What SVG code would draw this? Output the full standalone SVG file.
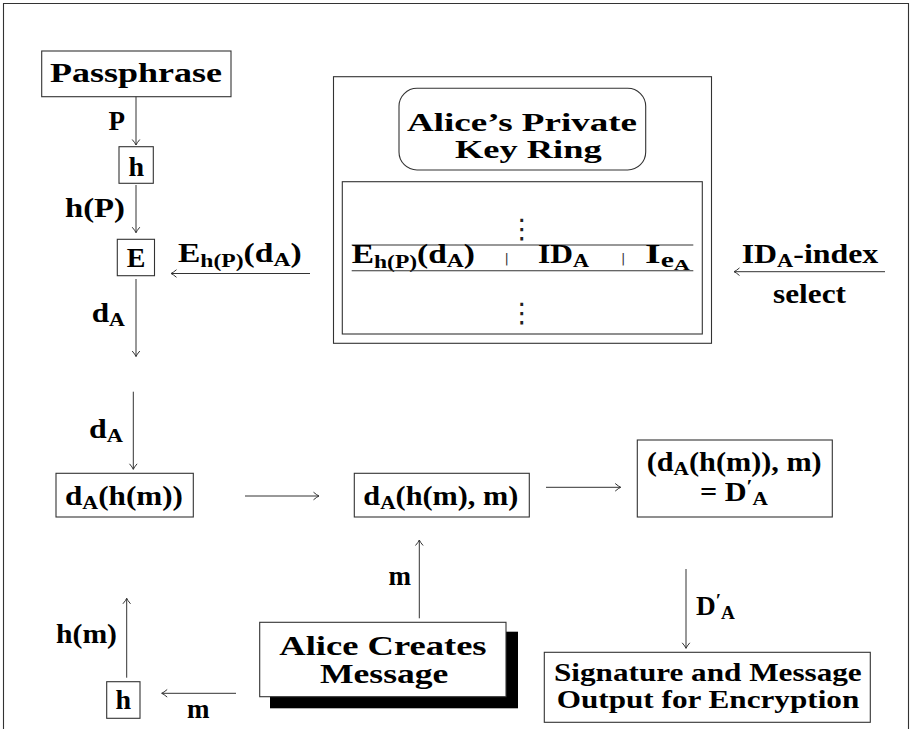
<svg xmlns="http://www.w3.org/2000/svg" width="911" height="729" viewBox="0 0 911 729">
<defs>
<style>
.box{fill:#fff;stroke:#333;stroke-width:1.1}
.ln{fill:none;stroke:#333;stroke-width:1.1}
.cn{fill:none;stroke:#333;stroke-width:1;marker-end:url(#ah)}
text{font-family:"Liberation Serif","Times New Roman",serif;font-weight:bold;fill:#000}
.big{font-size:26px}
.mid{font-size:27px}
.sig{font-size:26px}
.sub{font-size:19px}
.ssub{font-size:15px}
.dots{font-family:"DejaVu Sans",sans-serif;font-weight:normal;font-size:27px;fill:#222}
.bar{font-family:"DejaVu Sans",sans-serif;font-weight:normal;font-size:13px;fill:#333}
</style>
<marker id="ah" viewBox="-7 -5 8 10" markerWidth="8" markerHeight="10" refX="0" refY="0" orient="auto" markerUnits="userSpaceOnUse">
<path d="M-5.5,-3.8 Q-2,-0.8 0,0 Q-2,0.8 -5.5,3.8" fill="none" stroke="#333" stroke-width="1"/>
</marker>
</defs>
<rect width="911" height="729" fill="#fff"/>
<path class="ln" d="M3.5,729 V3.5 H908.5 V729"/>

<g id="passphrase">
<rect class="box" x="41.7" y="51" width="189.3" height="45.7"/>
<text x="50" y="81.7" font-size="28" textLength="172" lengthAdjust="spacingAndGlyphs">Passphrase</text>
</g>
<g id="hash-top">
<rect class="box" x="119" y="146.7" width="34.3" height="36.6"/>
<text x="136.2" y="175.7" font-size="28" text-anchor="middle">h</text>
</g>
<g id="encrypt">
<rect class="box" x="117.3" y="239.3" width="37.2" height="36.4"/>
<text x="136" y="266.5" font-size="28" text-anchor="middle">E</text>
</g>

<g id="keyring">
<rect class="box" x="333.5" y="76.7" width="378" height="266.6"/>
<rect class="box" x="399" y="88.3" width="246.7" height="81.7" rx="18" ry="18"/>
<text class="big" x="407" y="130.5" textLength="230" lengthAdjust="spacingAndGlyphs">Alice’s Private</text>
<text class="big" x="455" y="158" textLength="146.7" lengthAdjust="spacingAndGlyphs">Key Ring</text>
<rect class="box" x="342.3" y="181.7" width="360" height="152.3"/>
<text class="dots" x="521.7" y="238" text-anchor="middle">⋮</text>
<line class="ln" x1="351.7" y1="245" x2="693.3" y2="245"/>
<text class="mid" x="351.7" y="263.3" textLength="123.3" lengthAdjust="spacingAndGlyphs">E<tspan class="sub" dy="5">h(P)</tspan><tspan dy="-5">(d</tspan><tspan class="sub" dy="4">A</tspan><tspan dy="-4">)</tspan></text>
<text class="bar" x="506.7" y="263" text-anchor="middle">|</text>
<text class="mid" x="538" y="263.3" textLength="51" lengthAdjust="spacingAndGlyphs">ID<tspan class="sub" dy="4">A</tspan></text>
<text class="bar" x="623.3" y="263" text-anchor="middle">|</text>
<text class="mid" x="645" y="263.3" textLength="45" lengthAdjust="spacingAndGlyphs">I<tspan font-size="20" dy="4">e</tspan><tspan class="ssub" dy="3">A</tspan></text>
<line class="ln" x1="351.7" y1="270.7" x2="693.3" y2="270.7"/>
<text class="dots" x="521.7" y="321.5" text-anchor="middle">⋮</text>
</g>

<g id="sign-hash">
<rect class="box" x="56" y="473.3" width="137.3" height="43.7"/>
<text class="mid" x="65" y="505" textLength="118" lengthAdjust="spacingAndGlyphs">d<tspan class="sub" dy="4">A</tspan><tspan dy="-4">(h(m))</tspan></text>
</g>
<g id="sign-pair">
<rect class="box" x="354.3" y="473.3" width="175" height="43.7"/>
<text class="mid" x="363.3" y="505" textLength="155" lengthAdjust="spacingAndGlyphs">d<tspan class="sub" dy="4">A</tspan><tspan dy="-4">(h(m), m)</tspan></text>
</g>
<g id="result">
<rect class="box" x="637.3" y="440" width="195" height="77"/>
<text class="mid" x="646.7" y="470.7" textLength="175" lengthAdjust="spacingAndGlyphs">(d<tspan class="sub" dy="4">A</tspan><tspan dy="-4">(h(m)), m)</tspan></text>
<text class="mid" x="700" y="500.7" textLength="68" lengthAdjust="spacingAndGlyphs">= D<tspan class="sub" dy="-8">′</tspan><tspan class="sub" dy="12">A</tspan></text>
</g>
<g id="alice-creates">
<rect x="270" y="631.7" width="248" height="76.6" fill="#000"/>
<rect class="box" x="259.7" y="622.3" width="246.3" height="74.4"/>
<text x="279.3" y="655" font-size="27" textLength="207.3" lengthAdjust="spacingAndGlyphs">Alice Creates</text>
<text x="320" y="683" font-size="27" textLength="128.3" lengthAdjust="spacingAndGlyphs">Message</text>
</g>
<g id="hash-bottom">
<rect class="box" x="106.7" y="681.7" width="33.3" height="36.6"/>
<text x="123.3" y="708.5" font-size="28" text-anchor="middle">h</text>
</g>
<g id="output">
<rect class="box" x="544.3" y="652.3" width="326" height="70"/>
<text class="sig" x="554" y="681.2" textLength="307.7" lengthAdjust="spacingAndGlyphs">Signature and Message</text>
<text class="sig" x="556.7" y="708.3" textLength="302.6" lengthAdjust="spacingAndGlyphs">Output for Encryption</text>
</g>
<g id="idx">
<text class="mid" x="741.7" y="263.3" textLength="136.6" lengthAdjust="spacingAndGlyphs">ID<tspan class="sub" dy="4">A</tspan><tspan dy="-4">-index</tspan></text>
<text class="mid" x="773" y="302.7" textLength="73" lengthAdjust="spacingAndGlyphs">select</text>
</g>

<g id="connectors">
<line class="cn" x1="136" y1="96.7" x2="136" y2="145"/>
<text class="mid" x="125" y="130" text-anchor="end">P</text>
<line class="cn" x1="136" y1="185" x2="136" y2="232.7"/>
<text class="mid" x="65" y="216.7" textLength="60" lengthAdjust="spacingAndGlyphs">h(P)</text>
<line class="cn" x1="310" y1="273.5" x2="171" y2="273.5"/>
<text class="mid" x="178" y="261.7" textLength="123.7" lengthAdjust="spacingAndGlyphs">E<tspan class="sub" dy="5">h(P)</tspan><tspan dy="-5">(d</tspan><tspan class="sub" dy="4">A</tspan><tspan dy="-4">)</tspan></text>
<line class="cn" x1="136" y1="279" x2="136" y2="356.5"/>
<text class="mid" x="91.7" y="321.7" textLength="33.3" lengthAdjust="spacingAndGlyphs">d<tspan class="sub" dy="4">A</tspan></text>
<line class="cn" x1="885" y1="271.7" x2="734" y2="271.7"/>
<line class="cn" x1="133.3" y1="391.7" x2="133.3" y2="469.3"/>
<text class="mid" x="89" y="438" textLength="34" lengthAdjust="spacingAndGlyphs">d<tspan class="sub" dy="4">A</tspan></text>
<line class="cn" x1="245" y1="496" x2="319" y2="496"/>
<line class="cn" x1="546" y1="487.3" x2="620.7" y2="487.3"/>
<line class="cn" x1="419.3" y1="618.3" x2="419.3" y2="540"/>
<text class="mid" x="411" y="585" text-anchor="end">m</text>
<line class="cn" x1="126.7" y1="677.7" x2="126.7" y2="598.3"/>
<text class="mid" x="56" y="643" textLength="61" lengthAdjust="spacingAndGlyphs">h(m)</text>
<line class="cn" x1="236" y1="693.3" x2="161.7" y2="693.3"/>
<text class="mid" x="187" y="718">m</text>
<line class="cn" x1="686" y1="569" x2="686" y2="648.3"/>
<text class="mid" x="696" y="614.7" textLength="39" lengthAdjust="spacingAndGlyphs">D<tspan class="sub" dy="-8">′</tspan><tspan class="sub" dy="12">A</tspan></text>
</g>
</svg>
